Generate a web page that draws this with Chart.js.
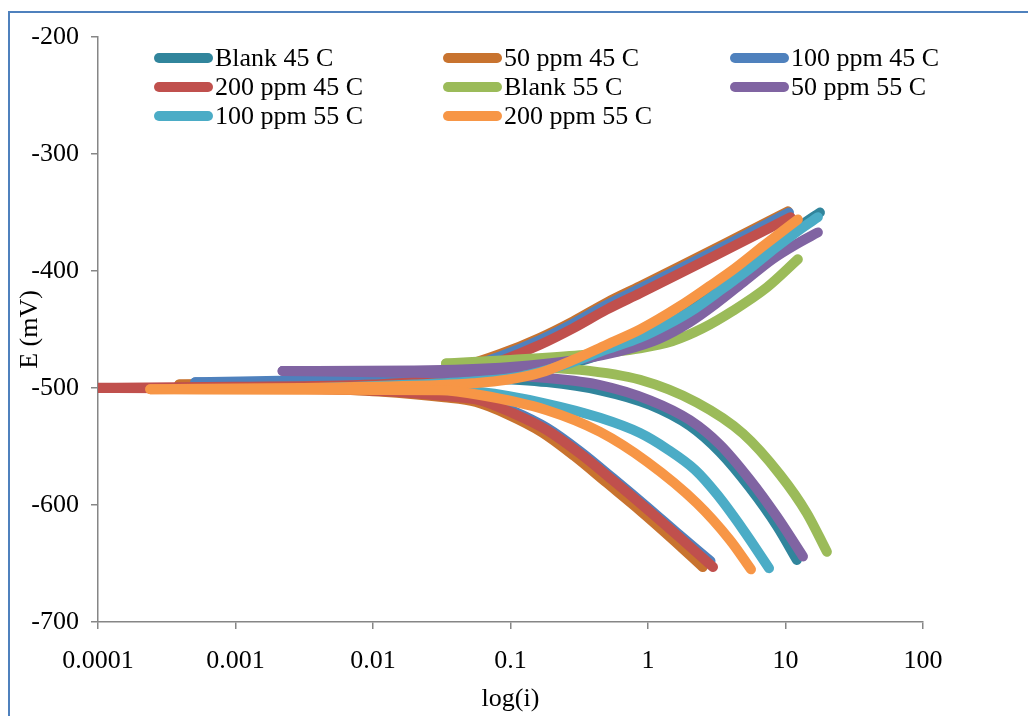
<!DOCTYPE html>
<html>
<head>
<meta charset="utf-8">
<script src="https://cdn.jsdelivr.net/npm/chart.js@4.4.1/dist/chart.umd.min.js"></script>
<style>
  html, body { margin: 0; padding: 0; background: #fff; }
</style>
</head>
<body>
<canvas id="tafel" width="1028" height="716"></canvas>
<script>
// polarization curves, [current, potential mV], cathodic end -> Ecorr -> anodic end
const seriesNames = ['Blank 45 C', '50 ppm 45 C', '100 ppm 45 C', '200 ppm 45 C',
                     'Blank 55 C', '50 ppm 55 C', '100 ppm 55 C', '200 ppm 55 C'];

const blank45 = [[12.1, -647], [8.67, -618], [5.52, -585.5], [3.34, -555], [2.02, -532.5], [1.035, -514.5],
  [0.448, -502], [0.184, -495], [0.06, -491.5], [0.02, -490.5], [0.0066, -490], [0.015, -489],
  [0.06, -488.5], [0.15, -486], [0.3, -478], [0.6, -466], [1.0, -455], [1.5, -444], [2.3, -429],
  [3.6, -412], [5.6, -395], [8.6, -377], [13, -361], [17.8, -350]];

const ppm50at45 = [[2.5, -653], [1.5, -629], [0.88, -605], [0.5, -581], [0.29, -558], [0.17, -538],
  [0.097, -523], [0.056, -512], [0.033, -508], [0.011, -503], [0.003, -500], [0.00039, -497],
  [0.005, -494], [0.022, -489], [0.043, -482], [0.084, -471], [0.164, -457], [0.285, -443], [0.5, -427],
  [0.875, -413], [1.71, -396], [4.15, -373], [10.4, -349]];

const ppm100at45 = [[2.85, -648], [1.71, -626], [0.984, -601.5], [0.556, -577], [0.32, -554],
  [0.184, -534], [0.104, -519.5], [0.06, -509], [0.0345, -505], [0.0112, -500.5], [0.003, -498],
  [0.00051, -495], [0.005, -493], [0.022, -490.5], [0.043, -484], [0.084, -473], [0.164, -459],
  [0.285, -445], [0.5, -429], [0.875, -415], [1.71, -398], [4.15, -375], [10.6, -350]];

const ppm200at45 = [[2.97, -653], [1.71, -628], [0.984, -603.5], [0.556, -579], [0.32, -556],
  [0.184, -536], [0.104, -521.5], [0.06, -510.5], [0.0345, -507], [0.0112, -502.5], [0.001, -500.5],
  [0.00005, -500], [0.001, -499], [0.01, -497], [0.022, -494.5], [0.043, -488], [0.084, -477],
  [0.164, -463], [0.285, -449], [0.5, -433], [0.875, -419], [1.71, -402], [4.15, -379], [10.9, -354]];

const blank55 = [[20, -640], [14.3, -607], [9.12, -574], [4.91, -539], [2.27, -512.5], [0.875, -493],
  [0.32, -484.5], [0.1, -482], [0.034, -479], [0.1, -476], [0.32, -472], [0.875, -466], [1.5, -460],
  [2.5, -449], [4.15, -434], [7.33, -414], [12.3, -390]];

const ppm50at55 = [[13.4, -644], [8.67, -610], [5.52, -578.5], [3.34, -548.5], [2.02, -527.5],
  [1.035, -510.5], [0.448, -497.5], [0.184, -491.5], [0.06, -488], [0.02, -487], [0.0022, -485.5],
  [0.02, -485], [0.1, -482], [0.3, -476], [0.7, -467], [1.2, -458], [2.0, -444], [3.2, -427],
  [5.0, -409], [8, -390], [12, -377], [17.2, -367]];

const ppm100at55 = [[7.59, -654], [4.91, -621], [3.18, -591], [2.2, -570], [1.37, -552],
  [0.875, -538.5], [0.448, -525.5], [0.184, -513.5], [0.06, -503.5], [0.02, -501], [0.004, -500],
  [0.02, -497], [0.06, -494], [0.12, -490], [0.25, -480], [0.5, -467], [0.875, -457], [1.37, -446],
  [2.2, -432], [3.5, -415], [5.5, -398], [8.5, -380], [12.9, -364], [17.2, -354]];

const ppm200at55 = [[5.61, -655], [3.95, -630], [2.27, -598.5], [0.984, -563], [0.448, -537.5],
  [0.184, -519], [0.06, -506], [0.0307, -502], [0.003, -501.5], [0.00024, -501], [0.003, -500],
  [0.0307, -497.5], [0.053, -496], [0.094, -493], [0.164, -487], [0.285, -476], [0.5, -463],
  [0.875, -450], [1.71, -430], [2.8, -413], [4.15, -399], [7, -378], [12.3, -356]];

const allSeries = [blank45, ppm50at45, ppm100at45, ppm200at45, blank55, ppm50at55, ppm100at55, ppm200at55];
const seriesColors = ['#31859C', '#C8732F', '#4F81BD', '#C0504D', '#9BBB59', '#8064A2', '#4BACC6', '#F79646'];

const xTicks = [0.0001, 0.001, 0.01, 0.1, 1, 10, 100];
const xTickLabels = ['0.0001', '0.001', '0.01', '0.1', '1', '10', '100'];
const yTicks = [-700, -600, -500, -400, -300, -200];

const FONT = "'Liberation Serif', 'Times New Roman', serif";
Chart.defaults.font.family = FONT;
Chart.defaults.font.size = 26;
Chart.defaults.color = '#000';

// each curve is split at Ecorr (lowest current) so both branches run left to right
// and can use monotone smoothing
const datasets = [];
allSeries.forEach((pts, i) => {
  let tip = 0;
  pts.forEach((p, k) => { if (p[0] < pts[tip][0]) tip = k; });
  const branches = [pts.slice(0, tip + 1).reverse(), pts.slice(tip)];
  branches.forEach(br => {
    datasets.push({
      label: seriesNames[i],
      data: br.map(p => ({ x: p[0], y: p[1] })),
      showLine: true,
      borderColor: seriesColors[i],
      backgroundColor: seriesColors[i],
      borderWidth: 10,
      borderCapStyle: 'round',
      borderJoinStyle: 'round',
      pointRadius: 0,
      cubicInterpolationMode: 'monotone',
      clip: 0,
      order: allSeries.length - 1 - i   // last series drawn on top, like Excel
    });
  });
});

// outer frame + excel style legend
const decor = {
  id: 'decor',
  beforeDraw(chart) {
    const ctx = chart.ctx;
    ctx.save();
    ctx.fillStyle = '#fff';
    ctx.fillRect(0, 0, chart.width, chart.height);
    ctx.strokeStyle = '#4F81BD';
    ctx.lineWidth = 2;
    ctx.strokeRect(9, 12, 1100, 800);
    ctx.restore();
  },
  afterDraw(chart) {
    const ctx = chart.ctx;
    const colX = [154, 443, 730];
    const rowY = [58, 87, 116];
    ctx.save();
    ctx.font = '26px ' + FONT;
    ctx.textBaseline = 'middle';
    ctx.fillStyle = '#000';
    seriesNames.forEach((name, i) => {
      const x = colX[i % 3], y = rowY[Math.floor(i / 3)];
      ctx.strokeStyle = seriesColors[i];
      ctx.lineWidth = 10;
      ctx.lineCap = 'round';
      ctx.beginPath();
      ctx.moveTo(x + 5, y);
      ctx.lineTo(x + 54, y);
      ctx.stroke();
      ctx.fillText(name, x + 61, y + 1);
    });
    ctx.restore();
  }
};

new Chart(document.getElementById('tafel'), {
  type: 'scatter',
  data: { datasets },
  options: {
    responsive: false,
    animation: false,
    devicePixelRatio: 1,
    layout: { padding: { left: 0, right: 105, top: 37, bottom: 0 } },
    plugins: { legend: { display: false }, tooltip: { enabled: false } },
    scales: {
      x: {
        type: 'logarithmic',
        min: 0.0001,
        max: 100,
        afterBuildTicks: s => { s.ticks = xTicks.map(v => ({ value: v })); },
        afterFit: s => { s.height = 94; },
        ticks: {
          callback: (v, i) => xTickLabels[i],
          autoSkip: false, maxRotation: 0, padding: 17, color: '#000'
        },
        grid: { drawOnChartArea: false, color: '#868686', tickLength: 7, lineWidth: 1.5 },
        border: { color: '#868686', width: 1.5 },
        title: { display: true, text: 'log(i)', color: '#000', padding: { top: 1, bottom: 1 } }
      },
      y: {
        min: -700,
        max: -200,
        afterBuildTicks: s => { s.ticks = yTicks.map(v => ({ value: v })); },
        afterFit: s => { s.width = 98; },
        ticks: { padding: 12, color: '#000' },
        grid: { drawOnChartArea: false, color: '#868686', tickLength: 7, lineWidth: 1.5 },
        border: { color: '#868686', width: 1.5 },
        title: { display: true, text: 'E (mV)', color: '#000', padding: { top: 15, bottom: 15 } }
      }
    }
  },
  plugins: [decor]
});
</script>
</body>
</html>
